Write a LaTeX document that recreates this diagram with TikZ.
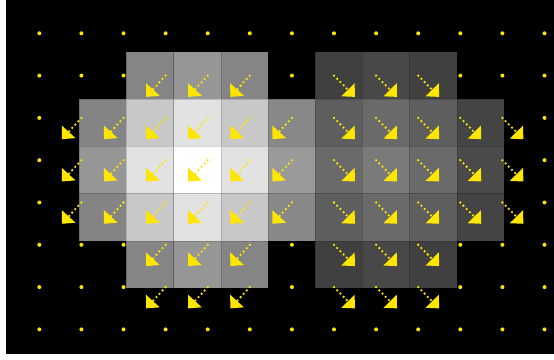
\documentclass[tikz,border=0pt]{standalone}
\usetikzlibrary{arrows.meta}

\definecolor{quiveryellow}{RGB}{255,230,0}

\tikzset{
  cell/.style={draw=black, draw opacity=0.15, line width=0.3pt},
  griddot/.style={fill=quiveryellow},
  gradarrow/.style={quiveryellow, line width=1.9pt, line cap=round,
    dash pattern=on 0pt off 3.4pt,
    -{Triangle[length=7.5pt, width=13.5pt]}}
}

\begin{document}
\begin{tikzpicture}[x=0.75pt, y=-0.75pt]

  % -- Frame --
  \useasboundingbox (0,0) rectangle (554,360);
  \fill[white] (0,0) rectangle (554,360);
  \fill[black] (6,0) rectangle (554,354);

  % -- Image cells --
  \foreach \i/\j/\g in {2/1/133, 3/1/150, 4/1/133, 6/1/64, 7/1/72, 8/1/64,
      1/2/132, 2/2/200, 3/2/226, 4/2/200, 5/2/136, 6/2/94, 7/2/106, 8/2/94, 9/2/68,
      1/3/150, 2/3/226, 3/3/255, 4/3/226, 5/3/154, 6/3/106, 7/3/122, 8/3/106, 9/3/74,
      1/4/132, 2/4/200, 3/4/226, 4/4/200, 5/4/136, 6/4/94, 7/4/106, 8/4/94, 9/4/68,
      2/5/133, 3/5/150, 4/5/133, 6/5/64, 7/5/72, 8/5/64}
    \filldraw[cell, fill={rgb,255:red,\g;green,\g;blue,\g}]
      ({32+47.2*\i},{4.4+47.3*\j}) rectangle ++(47.2,47.3);

  % -- Zero vectors (dots) --
  \foreach \j/\cols in {0/{0,...,12}, 1/{0,1,2,6,10,11,12}, 2/{0,12}, 3/{0,12},
      4/{0,12}, 5/{0,1,2,6,10,11,12}, 6/{0,1,2,6,10,11,12}, 7/{0,...,12}}
    \foreach \i in \cols
      \fill[griddot] ({39.3+42.1*\i},{33.3+42.3*\j}) circle (1.5pt);

  % -- Vectors pointing down-left --
  \foreach \j/\cols in {1/{3,4,5}, 2/{1,...,6}, 3/{1,...,6}, 4/{1,...,6},
      5/{3,4,5}, 6/{3,4,5}}
    \foreach \i in \cols
      \draw[gradarrow] ({39.3+42.1*\i},{33.3+42.3*\j}) -- ++(-19.5,21.3);

  % -- Vectors pointing down-right --
  \foreach \j/\cols in {1/{7,8,9}, 2/{7,...,11}, 3/{7,...,11}, 4/{7,...,11},
      5/{7,8,9}, 6/{7,8,9}}
    \foreach \i in \cols
      \draw[gradarrow] ({39.3+42.1*\i},{33.3+42.3*\j}) -- ++(21,21.3);

\end{tikzpicture}
\end{document}
